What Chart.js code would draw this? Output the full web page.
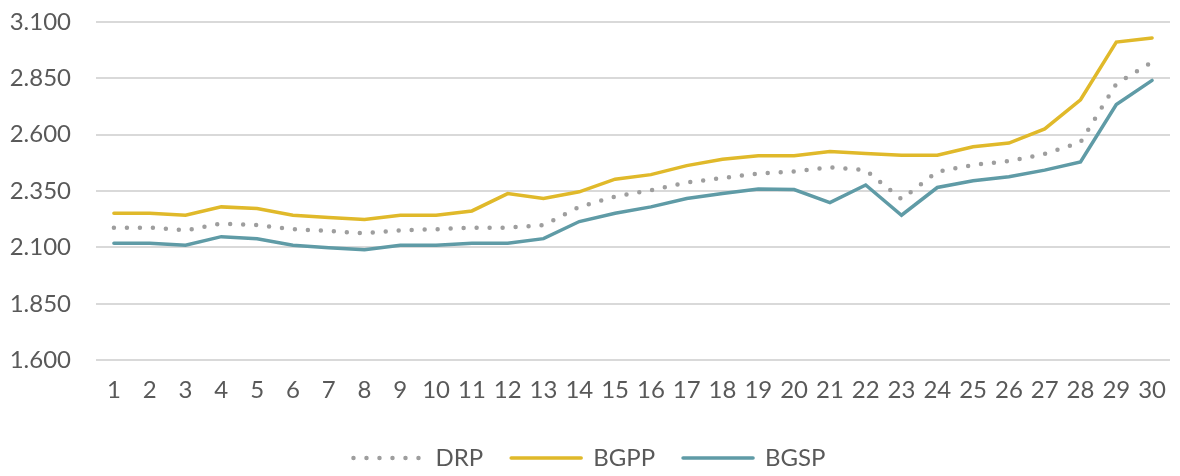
<!DOCTYPE html>
<html>
<head>
<meta charset="utf-8">
<script src="https://cdn.jsdelivr.net/npm/chart.js@4"></script>
<style>
  html, body { margin: 0; padding: 0; background: #fff; }
  #wrap { width: 1180px; height: 476px; }
</style>
</head>
<body>
<div id="wrap"><canvas id="chart"></canvas></div>
<script>
const days = ["1","2","3","4","5","6","7","8","9","10","11","12","13","14","15","16","17","18","19","20","21","22","23","24","25","26","27","28","29","30"];

const drp = [2188, 2188, 2176, 2206, 2199, 2181, 2173, 2163, 2176, 2181,
             2188, 2188, 2199, 2280, 2326, 2354, 2388, 2408, 2428, 2437,
             2455, 2443, 2314, 2436, 2466, 2483, 2515, 2566, 2826, 2922];

const bgpp = [2252, 2252, 2243, 2280, 2273, 2243, 2233, 2224, 2243, 2243,
              2262, 2339, 2317, 2347, 2403, 2423, 2463, 2491, 2507, 2507,
              2526, 2517, 2509, 2509, 2547, 2563, 2626, 2755, 3011, 3029];

const bgsp = [2119, 2119, 2110, 2148, 2139, 2110, 2099, 2090, 2110, 2110,
              2119, 2119, 2139, 2215, 2252, 2280, 2317, 2339, 2359, 2357,
              2299, 2377, 2243, 2366, 2396, 2414, 2443, 2479, 2734, 2841];

const yTicks = { min: 1600, max: 3100, step: 250 };

const textColor = "#595959";
const fontFamily = "Lato, 'Open Sans', sans-serif";

function fmt(v) {
  const th = Math.floor(v / 1000);
  const rest = String(v % 1000).padStart(3, "0");
  return th + "." + rest;
}

new Chart(document.getElementById("chart"), {
  type: "line",
  data: {
    labels: days,
    datasets: [
      {
        label: "DRP",
        data: drp,
        borderColor: "#9e9e9e",
        borderWidth: 4.5,
        borderDash: [0, 13],
        borderCapStyle: "round",
        pointRadius: 0,
        tension: 0,
      },
      {
        label: "BGPP",
        data: bgpp,
        borderColor: "#e0b92a",
        borderWidth: 3.5,
        borderCapStyle: "round",
        pointRadius: 0,
        tension: 0,
      },
      {
        label: "BGSP",
        data: bgsp,
        borderColor: "#5f9ba6",
        borderWidth: 3.5,
        borderCapStyle: "round",
        pointRadius: 0,
        tension: 0,
      },
    ],
  },
  options: {
    responsive: true,
    maintainAspectRatio: false,
    animation: false,
    layout: { padding: { top: 22, right: 10, left: 9, bottom: -4 } },
    scales: {
      x: {
        offset: true,
        grid: { display: false },
        border: { display: false },
        ticks: {
          color: textColor,
          font: { family: fontFamily, size: 24 },
          padding: 8,
          maxRotation: 0,
          autoSkip: false,
        },
        afterFit(scale) {
          scale.height += 5;
        },
      },
      y: {
        min: yTicks.min,
        max: yTicks.max,
        grid: { color: "#d9d9d9", lineWidth: 2, drawTicks: false },
        border: { display: false },
        ticks: {
          stepSize: yTicks.step,
          color: textColor,
          font: { family: fontFamily, size: 24 },
          padding: 25,
          callback: (v) => fmt(v),
        },
        afterFit(scale) {
          scale.width = 87;
          scale.paddingTop = 0;
          scale.paddingBottom = 0;
        },
      },
    },
    plugins: {
      legend: {
        position: "bottom",
        labels: {
          usePointStyle: true,
          pointStyle: "line",
          pointStyleWidth: 70,
          padding: 28,
          color: textColor,
          font: { family: fontFamily, size: 24 },
          generateLabels(chart) {
            return chart.data.datasets.map((ds, i) => ({
              text: ds.label,
              fontColor: textColor,
              strokeStyle: ds.borderColor,
              fillStyle: ds.borderColor,
              lineWidth: ds.borderWidth,
              lineDash: ds.borderDash || [],
              lineCap: ds.borderCapStyle,
              pointStyle: "line",
              hidden: false,
              datasetIndex: i,
            }));
          },
        },
      },
      tooltip: { enabled: false },
    },
  },
});
</script>
</body>
</html>
